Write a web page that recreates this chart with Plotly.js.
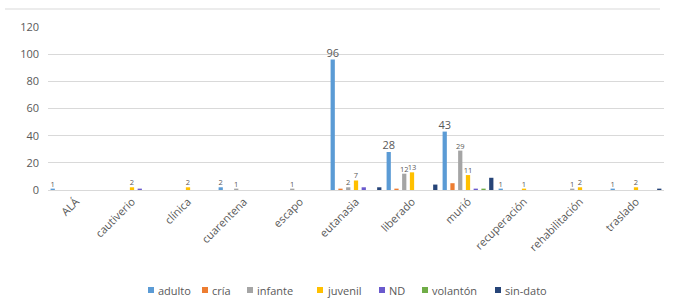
<!DOCTYPE html>
<html>
<head>
<meta charset="utf-8">
<script src="https://cdn.plot.ly/plotly-3.0.1.min.js"></script>
<style>html,body{margin:0;padding:0;background:#fff;}#chart{width:682px;height:302px;}</style>
</head>
<body>
<div id="chart"></div>
<script>
const categories = ["ALÁ","cautiverio","clínica","cuarentena","escapo","eutanasia","liberado","murió","recuperación","rehabilitación","traslado"];
const seriesNames = ["adulto","cría","infante","juvenil","ND","volantón","sin-dato"];
const adulto   = [1,0,0,2,0,96,28,43,1,0,1];
const cria     = [0,0,0,0,0,1,1,5,0,0,0];
const infante  = [0,0,0,1,1,2,12,29,0,1,0];
const juvenil  = [0,2,2,0,0,7,13,11,1,2,2];
const nd       = [0,1,0,0,0,2,0,1,0,0,0];
const volanton = [0,0,0,0,0,0,0,1,0,0,0];
const sinDato  = [0,0,0,0,0,2,4,9,0,0,1];
const yTicks = [0,20,40,60,80,100,120];

const values = [adulto,cria,infante,juvenil,nd,volanton,sinDato];
const colors = ["#5B9BD5","#ED7D31","#A5A5A5","#FFC000","#6A5ACD","#70AD47","#264478"];
const labeled = [true,false,true,true,false,false,false];
const FONT = 'Open Sans, sans-serif';
const SMALL = 'Liberation Sans Narrow, Open Sans, sans-serif';

const traces = values.map((v,i)=>({
  type:'bar', name:seriesNames[i], x:categories, y:v,
  marker:{color:colors[i]},
  text: labeled[i] ? v.map(n=> n>0 ? String(n) : '') : undefined,
  textposition: labeled[i] ? 'outside' : 'none',
  constraintext:'none',
  textfont:{family:v.map(n=> (i===0 && n>=20) ? FONT : SMALL), size:v.map(n=> (i===0 && n>=20) ? 11 : 7.5), color:'#595959'},
  cliponaxis:false,
  showlegend:false,
  hoverinfo:'none'
}));

// custom legend (square + text) laid out in pixel space
const W = 682, H = 302, ML = 48, MR = 18, MT = 27, MB = 112;
const PW = W-ML-MR, PH = H-MT-MB;
const legendX = [148,202,247,317,379,422,495];
const legendY = 290;
const px2x = px => (px-ML)/PW;
const py2y = py => (H-MB-py)/PH;
const shapes = [{type:'line', xref:'paper', yref:'paper', x0:px2x(5), x1:px2x(660), y0:py2y(9), y1:py2y(9),
    line:{color:'#D9D9D9', width:1}}];
const annotations = [];
seriesNames.forEach((n,i)=>{
  shapes.push({type:'rect', xref:'paper', yref:'paper', x0:px2x(legendX[i]), x1:px2x(legendX[i]+6),
    y0:py2y(legendY+3), y1:py2y(legendY-3), line:{width:0}, fillcolor:colors[i]});
  annotations.push({xref:'paper', yref:'paper', x:px2x(legendX[i]+8), y:py2y(legendY), xanchor:'left', yanchor:'middle',
    text:n, showarrow:false, font:{family:FONT, size:11, color:'#595959'}});
});

const layout = {
  width:W, height:H,
  margin:{l:ML, r:MR, t:MT, b:MB, autoexpand:false},
  paper_bgcolor:'#fff', plot_bgcolor:'#fff',
  barmode:'group', bargap:0.03, bargroupgap:0.45,
  showlegend:false,
  xaxis:{type:'category', tickangle:-45, showgrid:false, showline:true, linecolor:'#D9D9D9', automargin:false,
    ticks:'', tickfont:{family:FONT, size:11, color:'#595959'}},
  yaxis:{range:[0,120], tickvals:yTicks, showgrid:true, gridcolor:'#D9D9D9', zeroline:false, automargin:false,
    ticks:'', ticklabelstandoff:8, tickfont:{family:FONT, size:11, color:'#595959'}},
  shapes:shapes,
  annotations:annotations
};
Plotly.newPlot('chart', traces, layout, {staticPlot:true, displayModeBar:false});
</script>
</body>
</html>
